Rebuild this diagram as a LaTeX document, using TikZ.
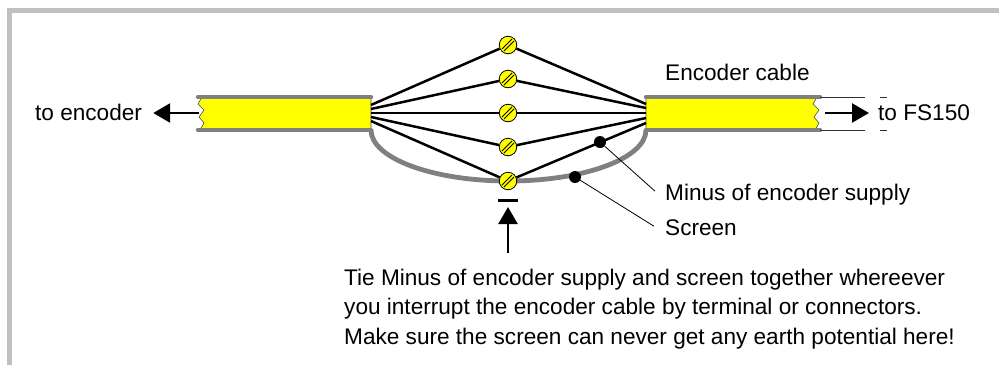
\documentclass[tikz,border=0pt]{standalone}
\usepackage{fontspec}
\setmainfont{Liberation Sans}
\usetikzlibrary{arrows.meta}
\definecolor{framegray}{RGB}{192,192,192}
\definecolor{cablegray}{RGB}{128,128,128}
\definecolor{cableyellow}{RGB}{255,255,0}

\begin{document}
\begin{tikzpicture}[x=1pt, y=-1pt,
		lbl/.style={anchor=base west, inner sep=0pt, font=\fontsize{22.6}{29.5}\selectfont},
		term/.style={circle, draw, line width=0.8pt, fill=cableyellow, minimum size=17.5pt, inner sep=0pt,
			path picture={
				\draw[line width=0.8pt] ([xshift=-6pt,yshift=-4pt]path picture bounding box.center) -- ([xshift=4pt,yshift=6pt]path picture bounding box.center);
				\draw[line width=0.8pt] ([xshift=-4pt,yshift=-6pt]path picture bounding box.center) -- ([xshift=6pt,yshift=4pt]path picture bounding box.center);}},
		wire/.style={line width=2.5pt},
		jacket/.style={cablegray, line width=4.5pt, line cap=round},
		core/.style={fill=cableyellow, draw=black!70, line width=0.6pt},
		dot/.style={circle, fill, inner sep=0pt, minimum size=12pt},
		arr/.style={line width=2.5pt, -{Triangle[length=17pt,width=19pt]}},
		lead/.style={line width=0.8pt}]
	\useasboundingbox (0,0) rectangle (999,365);
	
	% Рамка
	\draw[framegray, line width=5pt] (9.5,365) -- (9.5,10.5) -- (999,10.5);
	
	% Левый кабель
	\draw[core] (371,97) -- (202,97) -- (198,104) -- (204,110) -- (199,117) -- (204,123) -- (200,130) -- (371,130) -- cycle;
	\draw[jacket] (198,97) -- (371,97) (198,130) -- (371,130);
	
	% Правый кабель
	\draw[core] (646,97) -- (817,97) -- (813,104) -- (819,110) -- (814,117) -- (819,123) -- (815,130) -- (646,130) -- cycle;
	\draw[jacket] (646,97) -- (820,97) (646,130) -- (820,130);
	\draw[line width=0.8pt, black!80] (820,97) -- (865,97) (820,130) -- (865,130) (880,97) -- (887,97) (880,130) -- (887,130);
	
	% Экран
	\draw[cablegray, line width=4.8pt] (371,130) arc[start angle=180, end angle=0, x radius=137.5, y radius=51];
	
	% Клеммы и жилы
	\foreach \i/\y/\ly/\ry in {1/45/105/104, 2/79/109/108, 3/113/113/113, 4/147/117/118, 5/181/121/123} {
		\coordinate (l\i) at (371,\ly);
		\coordinate (r\i) at (646,\ry);
		\node[term] (t\i) at (508,\y) {};
		\draw[wire] (l\i) -- (t\i) -- (r\i);
	}
	
	% Точки
	\node[dot] (dminus) at (600,142) {};
	\node[dot] (dscreen) at (575,177) {};
	
	% Подписи
	\node[lbl] (lblcable) at (665,80) {Encoder cable};
	\node[lbl] (lblminus) at (665,200) {Minus of encoder supply};
	\node[lbl] (lblscreen) at (665,235) {Screen};
	\node[lbl] (toenc) at (35,120) {to encoder};
	\node[lbl] (tofs) at (878,120) {to FS150};
	\node[lbl, anchor=north west, align=left] (note) at (344,268.5) {Tie Minus of encoder supply and screen together whereever\\you interrupt the encoder cable by terminal or connectors.\\Make sure the screen can never get any earth potential here!};
	
	% Выноски
	\draw[lead] (dminus) -- ([xshift=-10pt,yshift=3pt]lblminus.west);
	\draw[lead] (dscreen) -- ([xshift=-11pt,yshift=1pt]lblscreen.west);
	
	% Стрелки
	\coordinate (lend) at (199,113);
	\coordinate (rend) at (825,113);
	\draw[arr] (lend) -- ([xshift=11pt]toenc.east |- lend);
	\draw[arr] (rend) -- ([xshift=-9pt]tofs.west |- rend);
	
	% Минус и стрелка снизу
	\coordinate (mbar) at (508,200);
	\draw[line width=3pt] ([xshift=-10pt]mbar) -- ([xshift=10pt]mbar);
	\coordinate (bstart) at (508,253);
	\draw[arr] (bstart) -- ([yshift=-7pt]mbar);
\end{tikzpicture}
\end{document}
